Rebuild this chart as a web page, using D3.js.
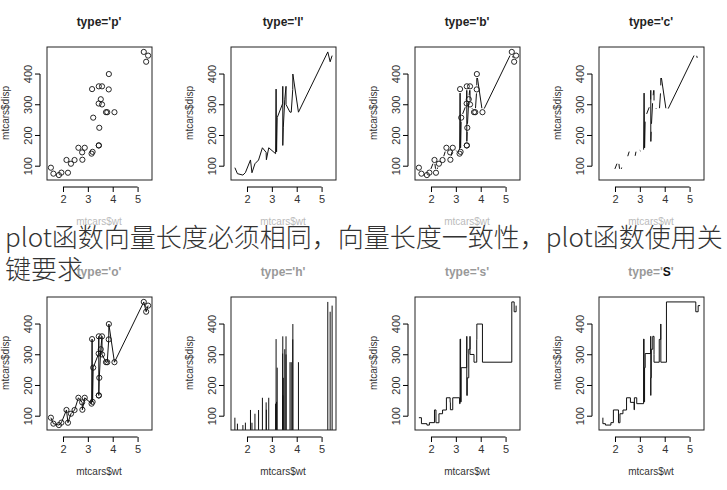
<!DOCTYPE html>
<html><head><meta charset="utf-8">
<script src="https://cdn.jsdelivr.net/npm/d3@7"></script>
<style>
body{margin:0;background:#fff;}
text{font-family:"Liberation Sans",Arial,sans-serif;}
</style></head>
<body>
<script>
var wt = [2.620,2.875,2.320,3.215,3.440,3.460,3.570,3.190,3.150,3.440,3.440,4.070,3.730,3.780,5.250,5.424,5.345,2.200,1.615,1.835,2.465,3.520,3.435,3.840,3.845,1.935,2.140,1.513,3.170,2.770,3.570,2.780];
var disp = [160,160,108,258,360,225,360,146.7,140.8,167.6,167.6,275.8,275.8,275.8,472,460,440,78.7,75.7,71.1,120.1,318,304,350,400,79,120.3,95.1,351,145,301,121];
var types = ["p","l","b","c","o","h","s","S"];
var xTicks = [2,3,4,5], yTicks = [100,200,300,400];

var width = 727, height = 490;
var svg = d3.select("body").append("svg").attr("width", width).attr("height", height);

// the plotted data is ordered by wt
var pts = wt.map(function (d, i) { return [d, disp[i], i]; })
    .sort(function (a, b) { return a[0] - b[0] || a[2] - b[2]; });
var pad = function (e) { var r = e[1] - e[0]; return [e[0] - r * 0.04, e[1] + r * 0.04]; };
var x = d3.scaleLinear().domain(pad(d3.extent(wt))).range([0, 105]);
var y = d3.scaleLinear().domain(pad(d3.extent(disp))).range([133, 0]);

svg.append("clipPath").attr("id", "box").append("rect").attr("width", 105).attr("height", 133);

types.forEach(function (t, k) {
    var col = k % 4, row = Math.floor(k / 4);
    var g = svg.append("g").attr("transform", "translate(" + (47 + col * 184) + "," + (47 + row * 250) + ")");
    var faded = row == 1;

    var title = g.append("text").attr("x", 52).attr("y", -21).attr("text-anchor", "middle")
        .style("font-size", "12px").style("font-weight", "bold").attr("fill", faded ? "#999" : "#222");
    title.append("tspan").text("type='");
    title.append("tspan").attr("fill", t == "S" ? "#111" : null).text(t);
    title.append("tspan").text("'");

    g.append("text").attr("transform", "translate(-38,66) rotate(-90)").attr("text-anchor", "middle")
        .style("font-size", "10px").attr("fill", "#333").text("mtcars$disp");
    g.append("text").attr("x", 52).attr("y", 178).attr("text-anchor", "middle")
        .style("font-size", "10px").attr("fill", faded ? "#333" : "#bbb").text("mtcars$wt");

    g.append("g").attr("transform", "translate(0,140)")
        .call(d3.axisBottom(x).tickValues(xTicks).tickSize(5).tickPadding(3).tickFormat(d3.format("d")))
        .call(function (a) { a.select(".domain").attr("d", "M" + x(2) + ",0H" + x(5)); a.selectAll("text").style("font-size", "11px").attr("fill", "#333"); });
    g.append("g").attr("transform", "translate(-7,0)")
        .call(d3.axisLeft(y).tickValues(yTicks).tickSize(5).tickPadding(3))
        .call(function (a) {
            a.select(".domain").attr("d", "M0," + y(100) + "V" + y(400));
            a.selectAll(".tick").attr("transform", null);
            a.selectAll(".tick line").attr("transform", function (d) { return "translate(0," + y(d) + ")"; });
            a.selectAll("text").style("font-size", "11px").attr("fill", "#333")
                .attr("text-anchor", "middle").attr("x", 0).attr("y", 0).attr("dy", "0.35em")
                .attr("transform", function (d) { return "translate(-12," + y(d) + ") rotate(-90)"; });
        });

    var p = g.append("g").attr("clip-path", "url(#box)");
    var line = d3.line().x(function (d) { return x(d[0]); }).y(function (d) { return y(d[1]); });
    function path(d) { p.append("path").attr("d", d).attr("fill", "none").attr("stroke", "#111").attr("stroke-width", 1); }

    if (t == "l" || t == "o") path(line(pts));
    if (t == "b" || t == "c") {
        for (var i = 1; i < pts.length; i++) {
            var x0 = x(pts[i - 1][0]), y0 = y(pts[i - 1][1]), x1 = x(pts[i][0]), y1 = y(pts[i][1]);
            var L = Math.hypot(x1 - x0, y1 - y0);
            if (L > 8) {
                var ux = (x1 - x0) / L * 4, uy = (y1 - y0) / L * 4;
                path("M" + (x0 + ux) + "," + (y0 + uy) + "L" + (x1 - ux) + "," + (y1 - uy));
            }
        }
    }
    if (t == "h") pts.forEach(function (d) { path("M" + x(d[0]) + "," + y(0) + "V" + y(d[1])); });
    if (t == "s") path(line.curve(d3.curveStepAfter)(pts));
    if (t == "S") path(line.curve(d3.curveStepBefore)(pts));
    if (t == "p" || t == "b" || t == "o") {
        p.selectAll("circle").data(pts).enter().append("circle")
            .attr("cx", function (d) { return x(d[0]); }).attr("cy", function (d) { return y(d[1]); })
            .attr("r", 2.6).attr("fill", "none").attr("stroke", "#111").attr("stroke-width", 0.9);
    }
    g.append("rect").attr("width", 105).attr("height", 133).attr("fill", "none").attr("stroke", "#222").attr("stroke-width", 1);
});

var overlay = ["plot函数向量长度必须相同，向量长度一致性，plot函数使用关", "键要求"];
svg.selectAll(".ov").data(overlay).enter().append("text").attr("class", "ov")
    .attr("x", 5).attr("y", function (d, i) { return 247 + i * 32; })
    .style("font-family", "'Noto Sans CJK SC',sans-serif").style("font-size", "26px").style("font-weight", 300)
    .attr("fill", "#333").text(function (d) { return d; });
</script>
</body></html>
